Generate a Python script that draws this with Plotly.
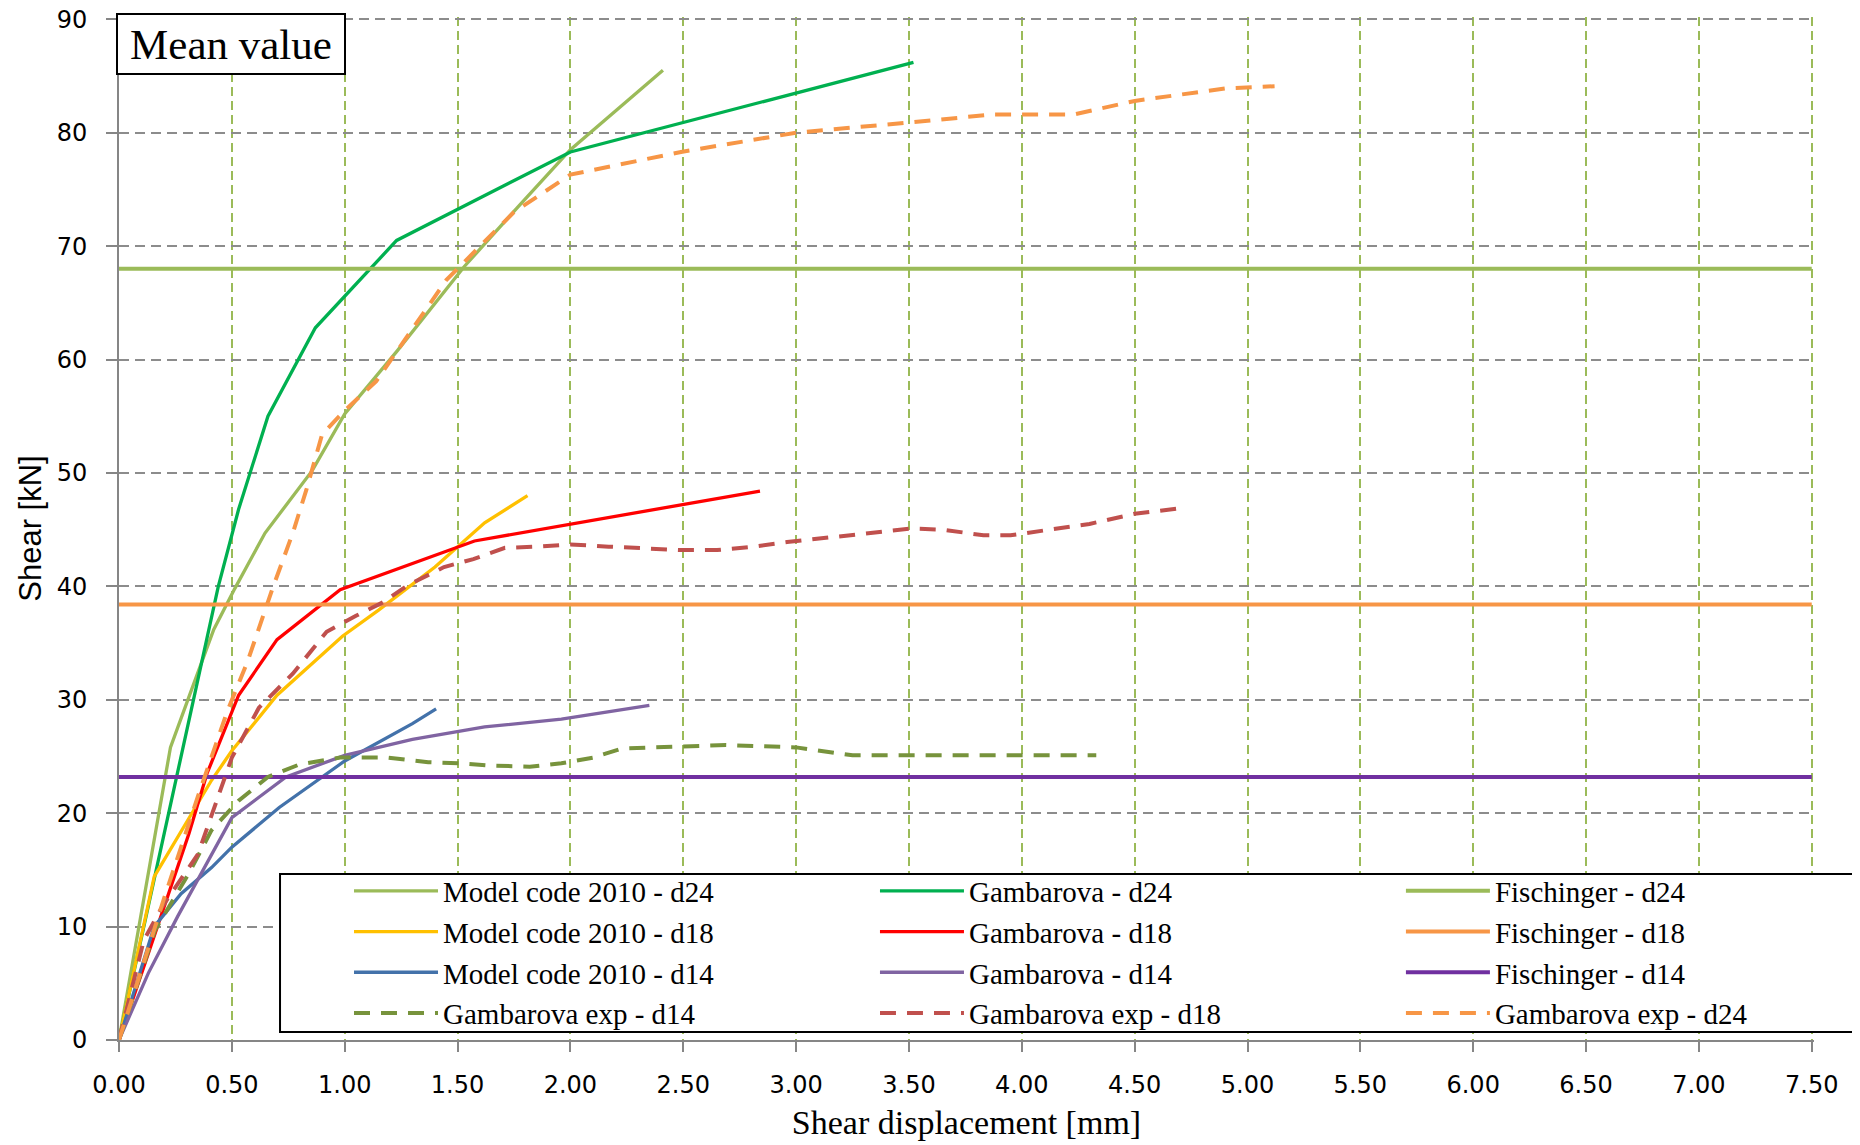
import plotly.graph_objects as go

# shear displacement [mm] / shear [kN]
mc_d24_x = [0, 0.228, 0.32, 0.42, 0.513, 0.647, 0.856, 1.0, 1.23, 1.53, 1.77, 2.0, 2.41]
mc_d24_y = [0, 25.8, 30.8, 36.2, 39.8, 44.7, 50.2, 55.2, 60.7, 68.2, 73.5, 78.5, 85.5]

gb_d24_x = [0, 0.44, 0.53, 0.66, 0.87, 1.23, 2.0, 3.52]
gb_d24_y = [0, 40.0, 46.8, 55.0, 62.8, 70.5, 78.3, 86.2]

mc_d18_x = [0, 0.156, 0.41, 0.5, 0.70, 0.99, 1.15, 1.40, 1.62, 1.81]
mc_d18_y = [0, 14.4, 22.9, 25.5, 30.4, 35.6, 37.9, 41.7, 45.6, 48.0]

gb_d18_x = [0, 0.19, 0.31, 0.39, 0.45, 0.53, 0.70, 0.98, 1.575, 2.84]
gb_d18_y = [0, 11.1, 18.2, 23.5, 26.4, 30.4, 35.3, 39.7, 44.0, 48.4]

mc_d14_x = [0, 0.156, 0.275, 0.41, 0.5, 0.71, 1.0, 1.30, 1.405]
mc_d14_y = [0, 10.0, 12.9, 15.2, 17.0, 20.5, 24.6, 27.9, 29.2]

gb_d14_x = [0, 0.13, 0.26, 0.38, 0.5, 0.62, 0.74, 1.0, 1.3, 1.62, 1.96, 2.35]
gb_d14_y = [0, 5.9, 10.9, 15.2, 19.6, 21.4, 23.2, 25.1, 26.5, 27.6, 28.3, 29.5]

fischinger_x = [0, 7.5]
fischinger_d24 = 68.0
fischinger_d18 = 38.4
fischinger_d14 = 23.2

exp_d14_x = [0, 0.16, 0.31, 0.41, 0.53, 0.66, 0.8, 0.98, 1.19, 1.37, 1.51, 1.64, 1.82,
             1.96, 2.1, 2.23, 2.37, 2.69, 3.0, 3.25, 3.6, 4.0, 4.33]
exp_d14_y = [0, 9.7, 14.7, 18.5, 21.1, 23.2, 24.3, 24.9, 24.9, 24.5, 24.4, 24.2, 24.1,
             24.4, 24.9, 25.7, 25.8, 26.0, 25.8, 25.1, 25.1, 25.1, 25.1]

exp_d18_x = [0, 0.11, 0.19, 0.35, 0.5, 0.62, 0.77, 0.92, 1.05, 1.17, 1.28, 1.44, 1.57,
             1.71, 1.85, 2.0, 2.17, 2.32, 2.49, 2.65, 2.81, 2.96, 3.1, 3.26, 3.51,
             3.65, 3.83, 3.95, 4.1, 4.3, 4.5, 4.71]
exp_d18_y = [0, 8.8, 11.7, 16.4, 24.9, 29.3, 32.3, 36.0, 37.4, 38.6, 40.1, 41.7, 42.4,
             43.4, 43.5, 43.7, 43.5, 43.4, 43.2, 43.2, 43.5, 43.9, 44.2, 44.5, 45.1,
             45.0, 44.5, 44.5, 44.9, 45.5, 46.4, 46.9]

exp_d24_x = [0, 0.2, 0.35, 0.48, 0.57, 0.68, 0.77, 0.83, 0.9, 1.0, 1.14, 1.21, 1.45,
             1.75, 2.0, 2.49, 3.0, 3.5, 3.87, 4.23, 4.5, 4.9, 5.12]
exp_d24_y = [0, 12.5, 21.5, 29.0, 33.4, 39.8, 44.7, 48.5, 53.4, 55.5, 58.1, 60.1, 67.0,
             73.0, 76.3, 78.3, 80.0, 80.9, 81.6, 81.6, 82.8, 83.9, 84.1]

x_ticks = [i * 0.5 for i in range(16)]
y_ticks = list(range(0, 100, 10))

SERIF = "Liberation Serif, Times New Roman, serif"
SANS = "DejaVu Sans, Tahoma, sans-serif"

fig = go.Figure()


def add_line(x, y, name, color, width=3.3, dash=None):
    line = dict(color=color, width=width)
    if dash:
        line['dash'] = dash
    fig.add_trace(go.Scatter(x=x, y=y, name=name, mode='lines', line=line))


exp_dash = "16px,11px"
add_line(mc_d24_x, mc_d24_y, 'Model code 2010 - d24', '#9BBB59')
add_line(gb_d24_x, gb_d24_y, 'Gambarova - d24', '#00B050')
add_line(fischinger_x, [fischinger_d24] * 2, 'Fischinger - d24', '#9BBB59', 4)
add_line(mc_d18_x, mc_d18_y, 'Model code 2010 - d18', '#FFC000')
add_line(gb_d18_x, gb_d18_y, 'Gambarova - d18', '#FF0000')
add_line(fischinger_x, [fischinger_d18] * 2, 'Fischinger - d18', '#F79646', 4)
add_line(mc_d14_x, mc_d14_y, 'Model code 2010 - d14', '#4372AA')
add_line(gb_d14_x, gb_d14_y, 'Gambarova - d14', '#8064A2')
add_line(fischinger_x, [fischinger_d14] * 2, 'Fischinger - d14', '#7030A0', 4)
add_line(exp_d14_x, exp_d14_y, 'Gambarova exp - d14', '#77933C', 4, exp_dash)
add_line(exp_d18_x, exp_d18_y, 'Gambarova exp - d18', '#C0504D', 4, exp_dash)
add_line(exp_d24_x, exp_d24_y, 'Gambarova exp - d24', '#F79646', 4, exp_dash)

fig.add_annotation(
    text='Mean value', xref='paper', yref='paper', x=0.0663, y=0.9736,
    xanchor='center', yanchor='middle', showarrow=False,
    font=dict(family=SERIF, size=43, color='black'),
    bgcolor='white', bordercolor='black', borderwidth=2, borderpad=2,
    width=222, height=54,
)

# white framed box behind the legend, it hides the grid like in the original
fig.add_shape(
    type='rect', xref='paper', yref='paper',
    x0=0.0950, x1=1.0254, y0=0.0078, y1=0.1623,
    line=dict(color='black', width=2), fillcolor='white', layer='above',
)

fig.update_xaxes(
    range=[0, 7.51], tickvals=x_ticks, tickformat='.2f',
    showgrid=True, gridcolor='#9BBB59', gridwidth=1.5, griddash='9px,5px',
    showline=True, linecolor='#868686', linewidth=2,
    ticks='outside', ticklen=10, tickwidth=2, tickcolor='#868686',
    ticklabelstandoff=12, zeroline=False, automargin=False,
    ticklabeloverflow='allow',
    tickfont=dict(family=SANS, size=24, color='black'),
    title=dict(text='Shear displacement [mm]', standoff=12,
               font=dict(family=SERIF, size=34, color='black')),
)
fig.update_yaxes(
    range=[0, 90.2], tickvals=y_ticks,
    showgrid=True, gridcolor='#8C8C8C', gridwidth=2, griddash='10px,6px',
    showline=True, linecolor='#868686', linewidth=2,
    ticks='outside', ticklen=11, tickwidth=2, tickcolor='#868686',
    ticklabelstandoff=14, zeroline=False, automargin=False,
    ticklabeloverflow='allow',
    tickfont=dict(family=SANS, size=24, color='black'),
    title=dict(text='Shear [kN]', standoff=6,
               font=dict(family='Liberation Sans, Arial, sans-serif', size=31, color='black')),
)

fig.update_layout(
    width=1860, height=1145,
    margin=dict(l=111, r=54, t=9, b=113, autoexpand=False),
    plot_bgcolor='white', paper_bgcolor='white',
    showlegend=True,
    legend=dict(
        orientation='h', x=0.1357, y=0.1706, xanchor='left', yanchor='top',
        bgcolor='rgba(0,0,0,0)', borderwidth=0,
        font=dict(family=SERIF, size=29, color='black'),
        itemwidth=84, entrywidth=0.3103, entrywidthmode='fraction',
        traceorder='normal',
    ),
)

fig.write_html("out.html")
